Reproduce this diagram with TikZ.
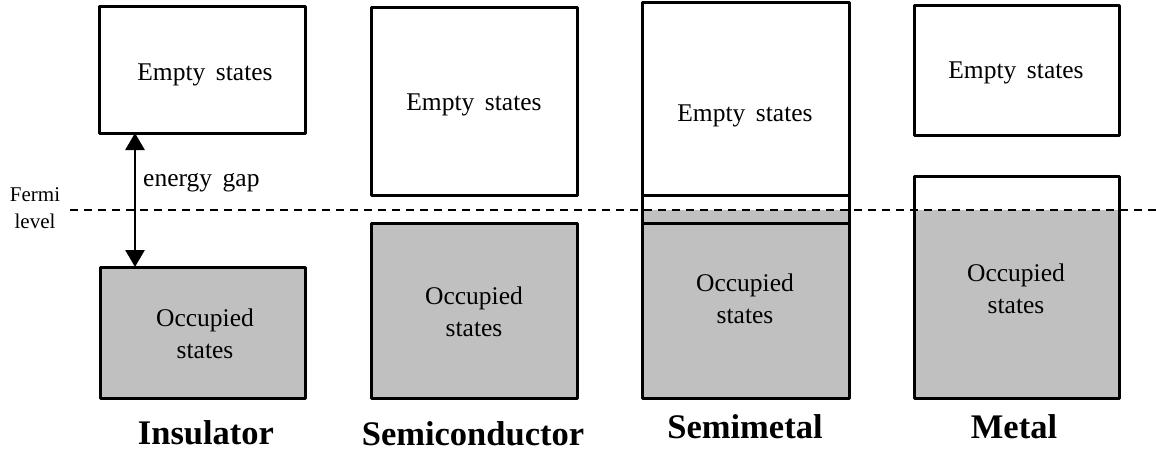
\documentclass[tikz,border=0pt]{standalone}
\usepackage{fontspec}
\setmainfont{Liberation Serif}
\usetikzlibrary{arrows.meta}
\begin{document}
\begin{tikzpicture}[x=1pt,y=-1pt,
  band/.style={draw=black,line width=3pt,line join=round},
  filled/.style={fill=occ},
  lbl/.style={font=\fontsize{25.5}{32}\selectfont,align=center,inner sep=0pt},
  title/.style={font=\fontsize{34.5}{38}\selectfont\bfseries,inner sep=0pt},
  fermi/.style={dash pattern=on 8pt off 6pt,line width=1.4pt}]
\definecolor{occ}{HTML}{C0C0C0}
\useasboundingbox (0,0) rectangle (1156,452);

% Insulator
\draw[band] (99,7) rectangle (305,133);
\coordinate (insE) at (135,133);
\draw[band,filled] (100,267) rectangle (305,398);
\coordinate (insO) at (135,267);
\node[lbl] (insEtxt) at (205,75) {Empty\, states};
\node[lbl] (insOtxt) at (205,334) {Occupied\\states};
\node[title] (insT) at (206,433) {Insulator};

% Semiconductor
\draw[band] (371,8) rectangle (577,195);
\draw[band,filled] (371,223) rectangle (577,398);
\node[lbl] (semEtxt) at (474,105) {Empty\, states};
\node[lbl] (semOtxt) at (474,312) {Occupied\\states};
\node[title] (semT) at (473,434) {Semiconductor};

% Semimetal
\fill[occ] (642,210) rectangle (849,398);
\draw[band] (642,3) rectangle (849,398);
\draw[band] (642,195) -- (849,195);
\draw[band] (642,223) -- (849,223);
\node[lbl] (smmEtxt) at (745,116) {Empty\, states};
\node[lbl] (smmOtxt) at (745,299) {Occupied\\states};
\node[title] (smmT) at (745,427) {Semimetal};

% Metal
\draw[band] (914,6) rectangle (1119,135);
\fill[occ] (914,210) rectangle (1119,398);
\draw[band] (914,176) rectangle (1119,398);
\node[lbl] (metEtxt) at (1016,73) {Empty\, states};
\node[lbl] (metOtxt) at (1016,289) {Occupied\\states};
\node[title] (metT) at (1014,427) {Metal};

% Fermi level
\coordinate (fL) at (70,210);
\coordinate (fR) at (1156,210);
\draw[fermi] (fL) -- (fR);
\node[font=\fontsize{21}{27}\selectfont,align=center,inner sep=0pt] (fermiTxt) at (35,208) {Fermi\\level};

% Energy gap
\draw[line width=2.8pt,{Triangle[width=19pt,length=17pt]}-{Triangle[width=19pt,length=17pt]}] (insE) -- (insO);
\node[lbl,anchor=west] (gapTxt) at (143,183) {energy\, gap};
\end{tikzpicture}
\end{document}
